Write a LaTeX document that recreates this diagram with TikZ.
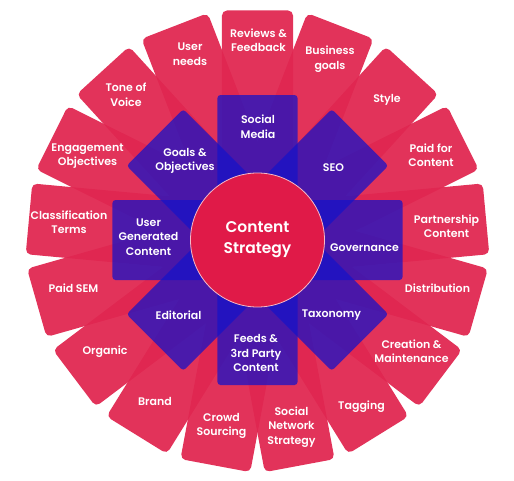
\documentclass[tikz,border=0pt]{standalone}
\usepackage{fontspec}
\setmainfont{Poppins}[BoldFont={* SemiBold}]
\usepackage{tikz}
\usetikzlibrary{positioning}
\definecolor{cardred}{RGB}{224,38,80}
\definecolor{topicblue}{RGB}{22,18,200}
\definecolor{hubred}{RGB}{224,26,72}

\begin{document}
\begin{tikzpicture}[
  x=1pt, y=1pt,
  card/.style={fill=cardred, fill opacity=0.94, rounded corners=5pt, minimum width=71pt, minimum height=229.5pt, inner sep=0pt},
  topic/.style={fill=topicblue, fill opacity=0.74, rounded corners=3pt, minimum width=80pt, minimum height=145pt, inner sep=0pt},
  hub/.style={circle, fill=hubred, draw=white!70!hubred, line width=0.8pt, minimum size=134pt, text=white, font=\fontsize{15.5}{21}\selectfont\bfseries, align=center},
  lbl/.style={text=white, font=\fontsize{11}{14.5}\selectfont\bfseries, align=center}
]
\useasboundingbox (-257.5,-240) rectangle (256.5,240);
% outer ring
\foreach \i in {0,...,16}
  \node[card, rotate={-\i*360/17}] (card\i) at ({90-\i*360/17}:114.75) {};
% inner ring
\foreach \j in {0,...,7}
  \node[topic, rotate={-\j*45}] (topic\j) at ({90-\j*45}:72.5) {};
\node[hub] (hub) at (0,0) {Content\\Strategy};
% outer labels
\node[lbl] (reviews) at (1,200) {Reviews \&\\Feedback};
\node[lbl] (business) at (72.5,181) {Business\\goals};
\node[lbl] (style) at (129.5,140) {Style};
\node[lbl] (paid) at (173.5,85) {Paid for\\Content};
\node[lbl] (partner) at (189,14) {Partnership\\Content};
\node[lbl] (distrib) at (180,-48) {Distribution};
\node[lbl] (creation) at (154,-111) {Creation \&\\Maintenance};
\node[lbl] (tagging) at (104,-167) {Tagging};
\node[lbl] (social) at (34,-187) {Social\\Network\\Strategy};
\node[lbl] (crowd) at (-36,-186) {Crowd\\Sourcing};
\node[lbl] (brand) at (-102.5,-161) {Brand};
\node[lbl] (organic) at (-152.5,-112) {Organic};
\node[lbl] (sem) at (-184,-48) {Paid SEM};
\node[lbl] (classif) at (-188.5,18) {Classification\\Terms};
\node[lbl] (engage) at (-170,84) {Engagement\\Objectives};
\node[lbl] (tone) at (-131.5,145) {Tone of\\Voice};
\node[lbl] (needs) at (-67.5,186) {User\\needs};
% inner labels
\node[lbl] (media) at (0.5,113.5) {Social\\Media};
\node[lbl] (seo) at (76,72) {SEO};
\node[lbl] (govern) at (107,-8) {Governance};
\node[lbl] (taxonomy) at (74,-75) {Taxonomy};
\node[lbl] (feeds) at (-1.5,-113) {Feeds \&\\3rd Party\\Content};
\node[lbl] (editorial) at (-79,-75) {Editorial};
\node[lbl] (ugc) at (-109,3) {User\\Generated\\Content};
\node[lbl] (goals) at (-72.5,79) {Goals \&\\Objectives};
\end{tikzpicture}
\end{document}
